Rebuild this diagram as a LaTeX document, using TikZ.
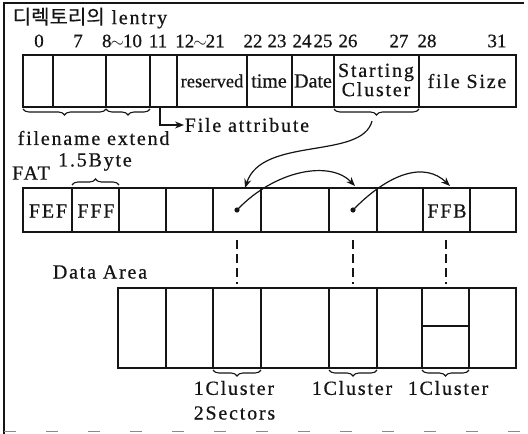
\documentclass[tikz,border=0pt]{standalone}
\usepackage{fontspec}
\setmainfont{Liberation Serif}[FakeBold=0.6]
\newfontfamily\hangul{Noto Sans CJK KR}[FakeBold=0.4]
\newfontfamily\wide{Liberation Serif}[LetterSpace=9,FakeBold=0.6]
\usetikzlibrary{arrows.meta,decorations.pathreplacing}
\definecolor{FatInk}{HTML}{151515}
\definecolor{ScanEdge}{HTML}{8A8A8A}

\begin{document}
\begin{tikzpicture}[x=1pt,y=-1pt,line width=1.5pt,draw=FatInk,
    lbl/.style={inner sep=0pt,text=FatInk,font=\fontsize{20}{22}\selectfont\wide},
    tight/.style={inner sep=0pt,text=FatInk,font=\fontsize{20}{22}\selectfont},
    num/.style={inner sep=0pt,text=FatInk,font=\fontsize{19}{21}\selectfont},
    brc/.style={decorate,line width=1.1pt,decoration={brace,amplitude=6pt,mirror}},
    ptr/.style={line width=1.2pt,-{Stealth[length=9pt,width=7pt]}},
    link/.style={dash pattern=on 9pt off 5pt,line width=1.1pt}]
  \useasboundingbox (0,0) rectangle (528,434);
  % frame of the scan
  \draw[line width=1.1pt] (4,434) -- (4,3) -- (524,3);
  \draw[ScanEdge,line width=0.6pt,dash pattern=on 12pt off 30pt] (4,431) -- (524,431);

  % directory entry
  \node[lbl,anchor=west] (title) at (12,18) {{\hangul 디렉토리의} lentry};
  \foreach \x/\t [count=\i] in {39/0,78/7,122/8{\kern-1pt$\sim$\kern-1pt}10,158/11,200/12{\kern-1pt$\sim$\kern-1pt}21,253/22,
      277/23,302/24,323/25,348/26,399/27,427/28,497/31}
    \node[num] (byte\i) at (\x,41) {\t};
  \foreach \a/\b in {23/53,53/106,106/150,150/177,177/247,247/292,292/334,334/419,419/516}
    \draw (\a,55) rectangle (\b,107);
  \node[tight,font=\fontsize{18.5}{20}\selectfont] (resv) at (212,81) {reserved};
  \node[tight] (time) at (269,81) {time};
  \node[tight] (date) at (313,81) {Date};
  \node[lbl,align=center,font=\fontsize{20}{17}\selectfont\wide] (start) at (376,80) {Starting\\Cluster};
  \node[lbl] (size) at (467,81) {file Size};

  \draw[brc] (23,109) -- (106,109);
  \draw[brc] (106,109) -- (150,109);
  \draw[brc] (334,109) -- (419,109);
  \node[lbl,anchor=west] (fname) at (17,138) {filename extend};
  \coordinate (attr) at (160,107);
  \node[lbl,anchor=west] (fattr) at (184,125) {File attribute};
  \draw[ptr] (attr) |- (fattr.west);

  % FAT
  \node[lbl] (fat) at (31,173) {FAT};
  \node[lbl] (half) at (95,162) {1.5Byte};
  \draw[brc,decoration={mirror=false}] (72,185) -- (119,185);
  \foreach \a/\b in {23/72,72/119,119/166,166/213,213/261,261/329,329/377,377/423,423/470,470/516}
    \draw (\a,188) rectangle (\b,232);
  \node[lbl] (fef) at (48,211) {FEF};
  \node[lbl] (fff) at (96,211) {FFF};
  \node[lbl] (ffb) at (447,211) {FFB};
  \fill[FatInk] (237,210) circle (2.6pt) coordinate (dot1);
  \fill[FatInk] (353,210) circle (2.6pt) coordinate (dot2);
  \coordinate (sctip) at (372,121);
  \coordinate (hit1) at (245,188);
  \coordinate (hit2) at (355,186);
  \coordinate (hit3) at (450,186);
  \draw[ptr] (sctip) .. controls (362,160) and (262,136) .. (hit1);
  \draw[ptr] (dot1) .. controls (275,170) and (330,160) .. (hit2);
  \draw[ptr] (dot2) .. controls (390,172) and (425,162) .. (hit3);

  % data area
  \node[lbl] (data) at (100,272) {Data Area};
  \foreach \x in {237,353,446}
    \draw[link] (\x,240) -- (\x,284);
  \foreach \a/\b in {118/166,166/213,213/261,261/329,329/377,377/422,422/469,469/516}
    \draw (\a,288) rectangle (\b,368);
  \draw (422,326) -- (469,326);
  \draw[brc] (213,370) -- (261,370);
  \draw[brc] (329,370) -- (377,370);
  \draw[brc] (422,370) -- (469,370);
  \node[lbl,anchor=west] (clu1) at (193,388) {1Cluster};
  \node[lbl,anchor=west] (sec1) at (193,413) {2Sectors};
  \node[lbl] (clu2) at (352,388) {1Cluster};
  \node[lbl] (clu3) at (448,388) {1Cluster};
\end{tikzpicture}
\end{document}
